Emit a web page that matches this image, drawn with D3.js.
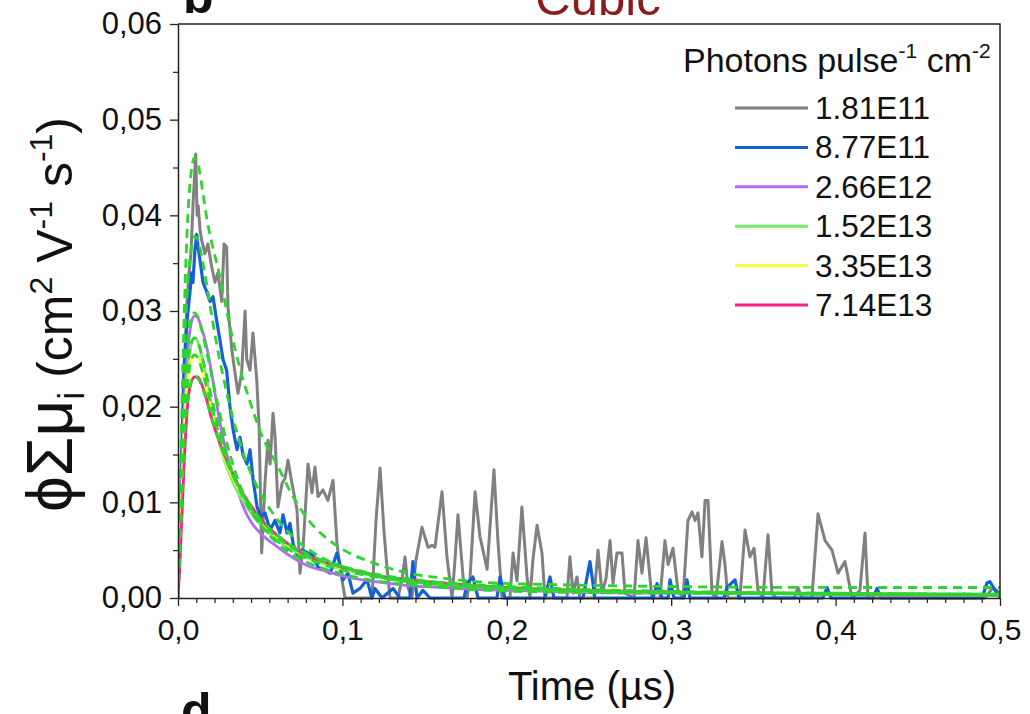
<!DOCTYPE html>
<html><head><meta charset="utf-8">
<script src="https://cdn.jsdelivr.net/npm/d3@7"></script>
<style>
body{margin:0;background:#fff}
svg{display:block}
text{font-family:"Liberation Sans",Arial,Helvetica,sans-serif}
</style></head>
<body><svg id="c" width="1030" height="714"></svg>
<script>
// ---------------- DATA ----------------
const xTicks = [0, 0.1, 0.2, 0.3, 0.4, 0.5];
const xTickLabels = ["0,0", "0,1", "0,2", "0,3", "0,4", "0,5"];
const yTicks = [0, 0.01, 0.02, 0.03, 0.04, 0.05, 0.06];
const yTickLabels = ["0,00", "0,01", "0,02", "0,03", "0,04", "0,05", "0,06"];
const legendLabels = ["1.81E11", "8.77E11", "2.66E12", "1.52E13", "3.35E13", "7.14E13"];

// 1.81E11 (noisy) [time µs, value]
const grayData = [[0,0],[0.0018,0.010],[0.0036,0.022],[0.0055,0.031],[0.0067,0.034],[0.0079,0.036],[0.0091,0.041],[0.0108,0.0464],[0.0116,0.040],[0.0123,0.041],[0.0134,0.0385],[0.0144,0.0374],[0.0164,0.036],[0.0182,0.037],[0.0205,0.0346],[0.0225,0.033],[0.0243,0.034],[0.0266,0.031],[0.0280,0.037],[0.0296,0.0367],[0.0304,0.0304],[0.0327,0.026],[0.0347,0.0235],[0.0365,0.0214],[0.0387,0.0235],[0.0408,0.030],[0.0418,0.025],[0.0438,0.0238],[0.0456,0.0277],[0.0479,0.0228],[0.0493,0.018],[0.0509,0.0047],[0.0529,0.012],[0.0547,0.0165],[0.0560,0.014],[0.0578,0.0193],[0.0590,0.017],[0.0608,0.0095],[0.0633,0.012],[0.0651,0.0125],[0.0669,0.0144],[0.0693,0.012],[0.0724,0.0092],[0.0742,0.0026],[0.0760,0.005],[0.0791,0.014],[0.0815,0.011],[0.0833,0.0137],[0.0852,0.0106],[0.0882,0.0113],[0.0912,0.0102],[0.0943,0.0123],[0.0967,0.0057],[0.0985,0.0032],[0.1016,0],[0.1180,0],[0.1204,0.008],[0.1229,0.0136],[0.1253,0.007],[0.1271,0.0032],[0.1290,0],[0.1338,0],[0.1363,0.002],[0.1381,0.0043],[0.1399,0.0011],[0.1423,0],[0.1448,0.004],[0.1484,0.0074],[0.1521,0.0053],[0.1545,0.0055],[0.1563,0.0053],[0.1606,0.0111],[0.1636,0.0043],[0.1667,0],[0.1685,0.004],[0.1703,0.0087],[0.1734,0.0022],[0.1758,0],[0.1776,0.002],[0.1807,0.0111],[0.1837,0.0064],[0.1855,0.005],[0.1880,0.003],[0.1922,0.0134],[0.1946,0.006],[0.1971,0],[0.2019,0],[0.2038,0.0047],[0.2062,0.0018],[0.2092,0.0095],[0.2123,0.0022],[0.2141,0],[0.2159,0.004],[0.2184,0.0076],[0.2214,0.0047],[0.2232,0],[0.2366,0],[0.2384,0.0043],[0.2403,0.0005],[0.2427,0.0022],[0.2445,0],[0.2530,0],[0.2555,0.005],[0.2579,0.0005],[0.2603,0.002],[0.2628,0.006],[0.2646,0.0015],[0.2670,0.0047],[0.2701,0.0047],[0.2719,0.0005],[0.2774,0],[0.2798,0.006],[0.2822,0.0026],[0.2847,0.0063],[0.2883,0],[0.2932,0],[0.2962,0.006],[0.2981,0.0035],[0.3011,0.0052],[0.3041,0.0008],[0.3072,0],[0.3102,0.0081],[0.3127,0.009],[0.3145,0.0081],[0.3163,0.0089],[0.3187,0.0043],[0.3206,0.0102],[0.3224,0.0102],[0.3248,0.0005],[0.3273,0],[0.3309,0.0059],[0.3327,0.0035],[0.3345,0],[0.3418,0],[0.3449,0.0071],[0.3479,0.0043],[0.3504,0.0052],[0.3528,0.0008],[0.3558,0],[0.3589,0.0066],[0.3613,0.0005],[0.3637,0],[0.3747,0],[0.3771,0.0011],[0.3796,0],[0.3856,0],[0.3893,0.0088],[0.3936,0.006],[0.3978,0.005],[0.4015,0.0026],[0.4057,0.0038],[0.4100,0],[0.4148,0.0008],[0.4179,0.0068],[0.4197,0],[0.4909,0],[0.4957,0.0011],[0.5,0.0005]];

// 8.77E11 (noisy) [time µs, value]
const blueData = [[0,0],[0.0018,0.012],[0.0036,0.024],[0.0055,0.029],[0.0073,0.032],[0.0083,0.034],[0.0091,0.033],[0.0103,0.0364],[0.0114,0.038],[0.0122,0.0367],[0.0134,0.0353],[0.0152,0.033],[0.0175,0.032],[0.0195,0.031],[0.0213,0.0315],[0.0235,0.029],[0.0255,0.027],[0.0274,0.0249],[0.0296,0.0238],[0.0316,0.020],[0.0335,0.0176],[0.0359,0.0155],[0.0377,0.0168],[0.0395,0.015],[0.0420,0.014],[0.0438,0.0155],[0.0456,0.0125],[0.0481,0.0095],[0.0505,0.0085],[0.0529,0.0089],[0.0560,0.0071],[0.0590,0.0081],[0.0620,0.0068],[0.0639,0.0087],[0.0663,0.0068],[0.0681,0.0078],[0.0700,0.0057],[0.0730,0.0043],[0.0754,0.005],[0.0791,0.0047],[0.0821,0.0045],[0.0852,0.0032],[0.0882,0.003],[0.0925,0.0026],[0.0967,0.0047],[0.0985,0.0035],[0.1004,0.0019],[0.1034,0.0026],[0.1064,0.0005],[0.1107,0.001],[0.1150,0.0019],[0.1180,0],[0.1198,0.001],[0.1241,0],[0.1308,0.001],[0.1350,0],[0.1410,0],[0.1429,0.0038],[0.1454,0],[0.1490,0.0008],[0.1533,0],[0.1740,0],[0.1758,0.0015],[0.1794,0.0022],[0.1825,0],[0.1940,0],[0.1959,0.0022],[0.1989,0],[0.2232,0],[0.2263,0.0022],[0.2287,0],[0.2464,0],[0.2506,0.0038],[0.2536,0],[0.2889,0],[0.2914,0.0015],[0.2944,0],[0.2981,0],[0.2993,0.0019],[0.3017,0],[0.3078,0],[0.3096,0.0019],[0.3114,0],[0.3321,0],[0.3339,0.0011],[0.3388,0.0019],[0.3412,0],[0.3923,0],[0.3948,0.0011],[0.3972,0],[0.4228,0],[0.4252,0.001],[0.4276,0],[0.4891,0],[0.4921,0.0016],[0.4939,0.0017],[0.4970,0.0008],[0.5,0]];

// smooth measured curves on a shared time grid (µs)
const smoothT = [0, 0.001, 0.002, 0.003, 0.004, 0.005, 0.006, 0.008, 0.010, 0.012, 0.014, 0.017, 0.02, 0.025, 0.03, 0.035, 0.04, 0.045, 0.05, 0.06, 0.07, 0.08, 0.09, 0.1, 0.12, 0.14, 0.16, 0.18, 0.2, 0.25, 0.3, 0.35, 0.4, 0.45, 0.5];
const purpleV = [0, 0.005, 0.011, 0.0165, 0.021, 0.024, 0.026, 0.0287, 0.0295, 0.0293, 0.0284, 0.0266, 0.0240, 0.0188, 0.0148, 0.0120, 0.0094, 0.0078, 0.0068, 0.0054, 0.0042, 0.0033, 0.0028, 0.0023, 0.0017, 0.0013, 0.0011, 0.0009, 0.0008, 0.0006, 0.0005, 0.0005, 0.0004, 0.0004, 0.0003];
const greenV = [0, 0.0045, 0.010, 0.015, 0.019, 0.022, 0.024, 0.0265, 0.0272, 0.0268, 0.0256, 0.0232, 0.0205, 0.0163, 0.0135, 0.0115, 0.0100, 0.0087, 0.0077, 0.0061, 0.0050, 0.0041, 0.0035, 0.0030, 0.0023, 0.0018, 0.0015, 0.0012, 0.0010, 0.0007, 0.0006, 0.0005, 0.0004, 0.0003, 0.0003];
const yellowV = [0, 0.004, 0.009, 0.0135, 0.018, 0.0205, 0.0225, 0.0248, 0.0254, 0.0252, 0.0243, 0.0222, 0.0198, 0.0163, 0.0138, 0.0120, 0.0105, 0.0092, 0.0081, 0.0064, 0.0052, 0.0043, 0.0036, 0.0031, 0.0024, 0.0019, 0.0015, 0.0013, 0.0011, 0.0008, 0.0006, 0.0005, 0.0004, 0.0003, 0.0003];
const pinkV = [0, 0.003, 0.007, 0.011, 0.015, 0.018, 0.0205, 0.0225, 0.0231, 0.0231, 0.0225, 0.0210, 0.0190, 0.0164, 0.0142, 0.0124, 0.0108, 0.0095, 0.0083, 0.0066, 0.0053, 0.0043, 0.0037, 0.0032, 0.0024, 0.0019, 0.0016, 0.0013, 0.0011, 0.0008, 0.0006, 0.0005, 0.0004, 0.0003, 0.0003];

// fitted curves (dashed) on a shared time grid (µs)
const fitT = [0, 0.002, 0.004, 0.006, 0.008, 0.010, 0.012, 0.015, 0.018, 0.021, 0.025, 0.03, 0.035, 0.04, 0.045, 0.05, 0.06, 0.07, 0.08, 0.09, 0.10, 0.12, 0.14, 0.16, 0.19, 0.23, 0.3, 0.4, 0.5];
const fitGrayV = [0, 0.017, 0.031, 0.040, 0.0445, 0.046, 0.0455, 0.0425, 0.0392, 0.0368, 0.034, 0.0297, 0.0258, 0.0226, 0.0199, 0.0174, 0.0140, 0.0106, 0.0080, 0.0063, 0.0051, 0.0036, 0.0026, 0.0021, 0.0016, 0.0014, 0.0012, 0.0011, 0.0011];
const fitBlueV = [0, 0.014, 0.026, 0.033, 0.0365, 0.0378, 0.0375, 0.0352, 0.0322, 0.029, 0.0252, 0.0212, 0.0178, 0.015, 0.0128, 0.0110, 0.0083, 0.0064, 0.0050, 0.0040, 0.0033, 0.0023, 0.0017, 0.0013, 0.0010, 0.0008, 0.0006, 0.0005, 0.0004];
const fitPurpleV = [0, 0.012, 0.022, 0.027, 0.0292, 0.0298, 0.0294, 0.0276, 0.0253, 0.0228, 0.0196, 0.0160, 0.0131, 0.0108, 0.0090, 0.0077, 0.0058, 0.0045, 0.0036, 0.0030, 0.0025, 0.0018, 0.0014, 0.0011, 0.0008, 0.0006, 0.0005, 0.0004, 0.0003];
const fitGreenV = [0, 0.011, 0.020, 0.0245, 0.0266, 0.0272, 0.0268, 0.0250, 0.0228, 0.0205, 0.0177, 0.0147, 0.0123, 0.0104, 0.0089, 0.0077, 0.0060, 0.0048, 0.0040, 0.0034, 0.0029, 0.0022, 0.0017, 0.0014, 0.0011, 0.0008, 0.0006, 0.0004, 0.0003];
const fitYellowV = [0, 0.010, 0.0185, 0.0228, 0.0248, 0.0254, 0.0251, 0.0236, 0.0216, 0.0196, 0.0171, 0.0144, 0.0123, 0.0106, 0.0092, 0.0081, 0.0064, 0.0052, 0.0043, 0.0037, 0.0032, 0.0024, 0.0019, 0.0016, 0.0012, 0.0009, 0.0006, 0.0004, 0.0003];
const fitPinkV = [0, 0.009, 0.0168, 0.0208, 0.0226, 0.0232, 0.0230, 0.0219, 0.0203, 0.0186, 0.0164, 0.0141, 0.0122, 0.0107, 0.0094, 0.0083, 0.0066, 0.0054, 0.0045, 0.0038, 0.0033, 0.0025, 0.0020, 0.0016, 0.0013, 0.0010, 0.0007, 0.0005, 0.0004];

// ---------------- STYLE ----------------
const colors = ["#808080", "#1560d4", "#b36bf5", "#70ef6a", "#fbfb3a", "#ff1f86"];
const fitColor = "#2fd52f";
const ink = "#111";

// ---------------- DRAW ----------------
const svg = d3.select("#c");
const X0 = 178, X1 = 1000, Y0 = 598, Y1 = 24;
const x = d3.scaleLinear().domain([0, 0.5]).range([X0, X1]);
const y = d3.scaleLinear().domain([0, 0.06]).range([Y0, Y1]);

svg.append("defs").append("clipPath").attr("id", "clip")
  .append("rect").attr("x", X0).attr("y", Y1 - 2).attr("width", X1 - X0).attr("height", Y0 - Y1 + 5);

const zip = (t, v) => t.map((d, i) => [d, v[i]]);
const lin = d3.line().x(d => x(d[0])).y(d => y(d[1]));
const smooth = d3.line().curve(d3.curveMonotoneX).x(d => x(d[0])).y(d => y(d[1]));

const plot = svg.append("g").attr("clip-path", "url(#clip)");
const series = [
  {data: grayData, gen: lin, w: 3},
  {data: blueData, gen: lin, w: 3.2},
  {data: zip(smoothT, purpleV), gen: smooth, w: 2.8},
  {data: zip(smoothT, greenV), gen: smooth, w: 2.8},
  {data: zip(smoothT, yellowV), gen: smooth, w: 2.8},
  {data: zip(smoothT, pinkV), gen: smooth, w: 2.8}
];
series.forEach((s, i) => {
  plot.append("path").attr("d", s.gen(s.data)).attr("fill", "none")
    .attr("stroke", colors[i]).attr("stroke-width", s.w).attr("stroke-linejoin", "round");
});
[fitGrayV, fitBlueV, fitPurpleV, fitGreenV, fitYellowV, fitPinkV].forEach(v => {
  plot.append("path").attr("d", smooth(zip(fitT, v))).attr("fill", "none")
    .attr("stroke", fitColor).attr("stroke-width", 2.8).attr("stroke-dasharray", "9,6");
});

// axes
const xMinor = [];
for (let i = 0; i < xTicks.length - 1; i++)
  for (let j = 1; j < 9; j++) xMinor.push(xTicks[i] + (xTicks[i + 1] - xTicks[i]) * j / 9);
const yMinor = yTicks.slice(0, -1).map((d, i) => (d + yTicks[i + 1]) / 2);

function styleAxis(g, fs) {
  g.select(".domain").attr("stroke", "#222").attr("stroke-width", 1.5);
  g.selectAll(".tick line").attr("stroke", "#222").attr("stroke-width", 1.3);
  g.selectAll(".tick text").attr("font-size", fs).attr("fill", ink)
    .attr("font-family", '"Liberation Sans",Arial,sans-serif');
}
svg.append("g").attr("transform", `translate(0,${Y0})`)
  .call(d3.axisBottom(x).tickValues(xMinor).tickSize(5).tickFormat(""))
  .call(g => { g.select(".domain").remove(); g.selectAll("line").attr("stroke", "#222").attr("stroke-width", 1.2); });
svg.append("g").attr("transform", `translate(${X0},0)`)
  .call(d3.axisLeft(y).tickValues(yMinor).tickSize(5).tickFormat(""))
  .call(g => { g.select(".domain").remove(); g.selectAll("line").attr("stroke", "#222").attr("stroke-width", 1.2); });
svg.append("g").attr("transform", `translate(0,${Y0})`)
  .call(d3.axisBottom(x).tickValues(xTicks).tickSize(8).tickSizeOuter(0).tickPadding(13)
    .tickFormat((d, i) => xTickLabels[i]))
  .call(g => styleAxis(g, 30));
svg.append("g").attr("transform", `translate(${X0},0)`)
  .call(d3.axisLeft(y).tickValues(yTicks).tickSize(8).tickSizeOuter(0).tickPadding(8)
    .tickFormat((d, i) => yTickLabels[i]))
  .call(g => styleAxis(g, 31));
svg.append("path").attr("d", `M${X0},${Y1}H${X1}V${Y0}`).attr("fill", "none")
  .attr("stroke", "#222").attr("stroke-width", 1.5);

// axis titles
svg.append("text").attr("x", 592).attr("y", 700).attr("text-anchor", "middle")
  .attr("font-size", 40).attr("fill", ink).text("Time (µs)");

const yl = svg.append("text").attr("transform", "translate(72,512) rotate(-90)").attr("fill", ink);
yl.append("tspan").attr("font-size", 64).text("ϕΣμ");
yl.append("tspan").attr("font-size", 36).attr("dy", 12).text("i");
yl.append("tspan").attr("font-size", 50).attr("dy", -12).text(" (cm");
yl.append("tspan").attr("font-size", 32).attr("dy", -20).text("2");
yl.append("tspan").attr("font-size", 50).attr("dy", 20).text(" V");
yl.append("tspan").attr("font-size", 32).attr("dy", -20).text("-1");
yl.append("tspan").attr("font-size", 50).attr("dy", 20).text(" s");
yl.append("tspan").attr("font-size", 32).attr("dy", -20).text("-1");
yl.append("tspan").attr("font-size", 50).attr("dy", 20).text(")");

// panel labels and title (partly outside the frame, as in the source figure)
svg.append("text").attr("x", 598).attr("y", 15).attr("text-anchor", "middle")
  .attr("font-size", 49).attr("fill", "#8b1a1a").text("Cubic");
svg.append("text").attr("x", 183).attr("y", 13).attr("font-size", 50)
  .attr("font-weight", "bold").attr("fill", ink).text("b");
svg.append("text").attr("x", 181).attr("y", 728).attr("font-size", 50)
  .attr("font-weight", "bold").attr("fill", ink).text("d");

// legend
const lt = svg.append("text").attr("x", 683).attr("y", 72).attr("font-size", 34).attr("fill", ink);
lt.append("tspan").text("Photons pulse");
lt.append("tspan").attr("font-size", 21).attr("dy", -14).text("-1");
lt.append("tspan").attr("dy", 14).text(" cm");
lt.append("tspan").attr("font-size", 21).attr("dy", -14).text("-2");

const rowY = d3.scaleLinear().domain([0, 5]).range([108, 305]);
legendLabels.forEach((lab, i) => {
  const yy = rowY(i);
  svg.append("line").attr("x1", 735).attr("x2", 808).attr("y1", yy).attr("y2", yy)
    .attr("stroke", colors[i]).attr("stroke-width", 3);
  svg.append("text").attr("x", 815).attr("y", yy + 11).attr("font-size", 31.5)
    .attr("fill", ink).text(lab);
});
</script></body></html>
